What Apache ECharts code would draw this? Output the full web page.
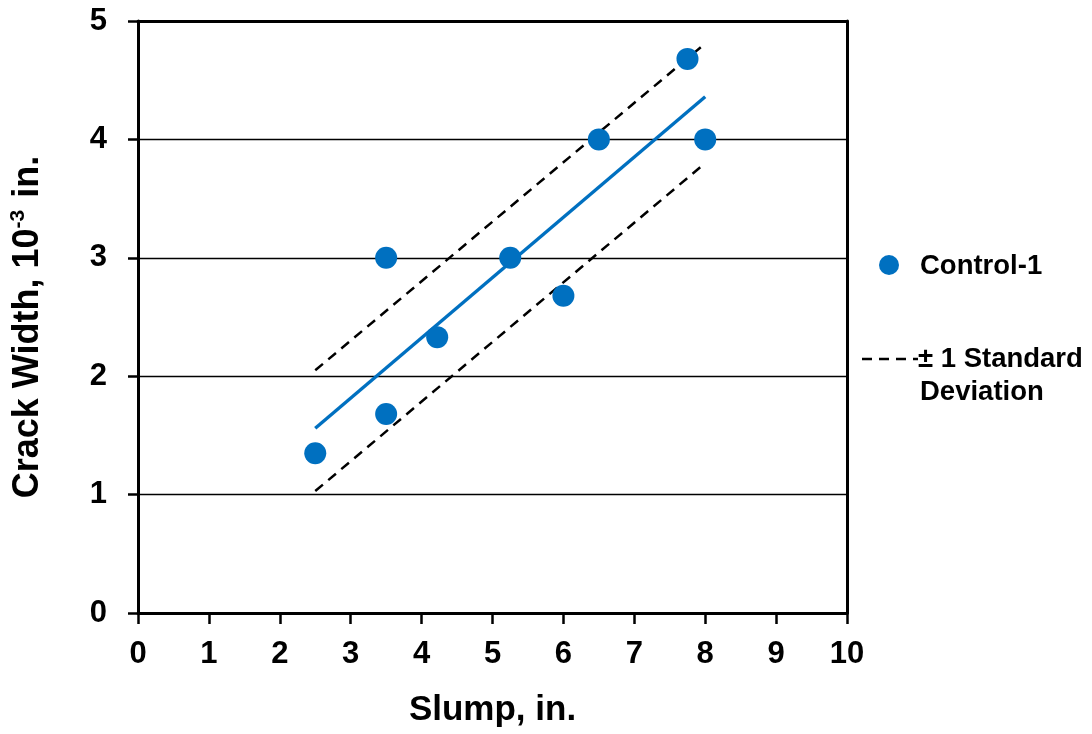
<!DOCTYPE html>
<html>
<head>
<meta charset="utf-8">
<script src="https://cdn.jsdelivr.net/npm/echarts@6/dist/echarts.min.js"></script>
<style>html,body{margin:0;padding:0;background:#fff;}#c{width:1092px;height:734px;}</style>
</head>
<body>
<div id="c"></div>
<script>
const slump = [2.5, 3.5, 3.5, 4.22, 5.25, 6.0, 6.5, 7.75, 8.0];
const crackWidth = [1.35, 3.0, 1.68, 2.33, 3.0, 2.68, 4.0, 4.68, 4.0];
const trendX = [2.5, 8.0];
const trendY = [1.56, 4.36];
const upperY = [2.05, 4.81];
const lowerY = [1.03, 3.80];
const xTicks = [0, 1, 2, 3, 4, 5, 6, 7, 8, 9, 10];
const yTicks = [0, 1, 2, 3, 4, 5];
const seriesName = 'Control-1';
const sdName = '± 1 Standard';
const sdName2 = 'Deviation';

const FONT = '"Liberation Sans", Arial, sans-serif';
const BLUE = '#0070C0';

const pts = slump.map((x, i) => [x, crackWidth[i]]);
const pair = (ys) => trendX.map((x, i) => [x, ys[i]]);

const chart = echarts.init(document.getElementById('c'), null, {renderer: 'canvas'});
chart.setOption({
  animation: false,
  backgroundColor: '#fff',
  grid: {left: 136, right: 245, top: 21, bottom: 121, containLabel: false},
  xAxis: [{
    type: 'value', min: xTicks[0], max: xTicks[xTicks.length - 1], interval: 1,
    name: 'Slump, in.', nameLocation: 'middle', nameGap: 80,
    nameTextStyle: {fontFamily: FONT, fontWeight: 'bold', fontSize: 35, color: '#000'},
    axisLine: {show: true, onZero: false, lineStyle: {color: '#000', width: 3}},
    axisTick: {show: true, inside: false, length: 11, lineStyle: {color: '#000', width: 2.5}},
    axisLabel: {fontFamily: FONT, fontWeight: 'bold', fontSize: 31, color: '#000', margin: 26},
    splitLine: {show: false}
  }, {
    type: 'value', position: 'top', min: 0, max: 10,
    axisLine: {show: true, onZero: false, lineStyle: {color: '#000', width: 3}},
    axisTick: {show: false}, axisLabel: {show: false}, splitLine: {show: false}
  }],
  yAxis: [{
    type: 'value', min: yTicks[0], max: yTicks[yTicks.length - 1], interval: 1,
    name: '{a|Crack Width, 10}{s|-3}{a| in.}', nameLocation: 'middle', nameGap: 90,
    nameTextStyle: {
      padding: [0, 20, 0, 0],
      rich: {
        a: {fontFamily: FONT, fontWeight: 'bold', fontSize: 36, color: '#000', lineHeight: 40},
        s: {fontFamily: FONT, fontWeight: 'bold', fontSize: 21, color: '#000', lineHeight: 40, verticalAlign: 'top', padding: [0, 2, 14, 0]}
      }
    },
    axisLine: {show: true, onZero: false, lineStyle: {color: '#000', width: 3}},
    axisTick: {show: true, inside: false, length: 10, lineStyle: {color: '#000', width: 2.5}},
    axisLabel: {fontFamily: FONT, fontWeight: 'bold', fontSize: 31, color: '#000', margin: 31},
    splitLine: {show: true, lineStyle: {color: '#000', width: 1.3}}
  }, {
    type: 'value', position: 'right', min: 0, max: 5,
    axisLine: {show: true, onZero: false, lineStyle: {color: '#000', width: 3}},
    axisTick: {show: false}, axisLabel: {show: false}, splitLine: {show: false}
  }],
  series: [
    {
      name: sdName, type: 'line', data: pair(upperY), symbol: 'none', z: 2,
      lineStyle: {color: '#000', width: 2.5, type: [10, 7]}
    },
    {
      name: sdName, type: 'line', data: pair(lowerY), symbol: 'none', z: 2,
      lineStyle: {color: '#000', width: 2.5, type: [10, 7]}
    },
    {
      name: 'trend', type: 'line', data: pair(trendY), symbol: 'none', z: 3,
      lineStyle: {color: BLUE, width: 3.4}
    },
    {
      name: seriesName, type: 'scatter', data: pts, symbol: 'circle', symbolSize: 22, z: 4,
      itemStyle: {color: BLUE, opacity: 1}
    }
  ],
  graphic: [
    {type: 'circle', shape: {cx: 889, cy: 265, r: 10}, style: {fill: BLUE}},
    {type: 'text', x: 920, y: 266, style: {text: seriesName, fontFamily: FONT, fontWeight: 'bold', fontSize: 27.5, fill: '#000', verticalAlign: 'middle'}},
    {type: 'line', shape: {x1: 862, y1: 359, x2: 918, y2: 359}, style: {stroke: '#000', lineWidth: 2.5, lineDash: [10, 7]}},
    {type: 'text', x: 918, y: 359, style: {text: sdName, fontFamily: FONT, fontWeight: 'bold', fontSize: 27.5, fill: '#000', verticalAlign: 'middle'}},
    {type: 'text', x: 920, y: 392, style: {text: sdName2, fontFamily: FONT, fontWeight: 'bold', fontSize: 27.5, fill: '#000', verticalAlign: 'middle'}}
  ]
});
</script>
</body>
</html>
